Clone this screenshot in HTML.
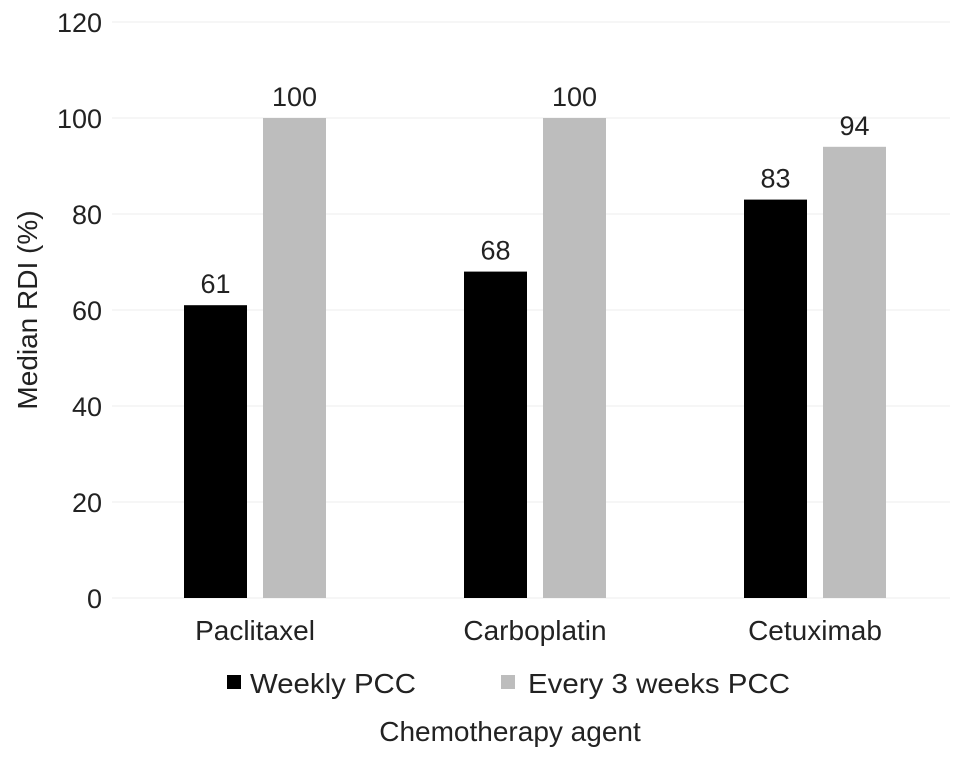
<!DOCTYPE html>
<html><head><meta charset="utf-8"><style>
body{margin:0;background:#fff}
svg text{font-family:"Liberation Sans",Arial,sans-serif;fill:#222}
</style></head><body>
<svg id="chart" width="969" height="760" xmlns="http://www.w3.org/2000/svg"></svg>
<script>
const categories = ["Paclitaxel","Carboplatin","Cetuximab"];
const weekly = [61,68,83];
const every3 = [100,100,94];
const yTicks = [0,20,40,60,80,100,120];
const svg = document.getElementById('chart');
const NS = 'http://www.w3.org/2000/svg';
function el(tag, attrs, parent){const e=document.createElementNS(NS,tag);for(const k in attrs)e.setAttribute(k,attrs[k]);(parent||svg).appendChild(e);return e;}
const y = v => 598 - v*4.8;
const xc = i => 255 + i*280;
yTicks.forEach(t=>{
  const g=el('line',{x1:112,x2:950,y1:y(t),y2:y(t),stroke:'#ececec','stroke-width':1});
  
  
  const tx=el('text',{x:102,y:y(t)+10,'text-anchor':'end','font-size':27});
  tx.textContent=t;
  
  
});
categories.forEach((c,i)=>{
  const pairs=[[weekly[i],'#000',-71],[every3[i],'#bdbdbd',8]];
  pairs.forEach(([v,col,off],j)=>{
    const r=el('rect',{x:xc(i)+off,y:y(v),width:63,height:y(0)-y(v),fill:col});
    
    
    const t=el('text',{x:xc(i)+off+31.5,y:y(v)-12,'text-anchor':'middle','font-size':27});
    t.textContent=v;
    
    
  });
  const l=el('text',{x:xc(i),y:640,'text-anchor':'middle','font-size':28});
  l.textContent=c;
  
  
});
</script>
<svg style="position:absolute;left:0;top:0" width="969" height="760" xmlns="http://www.w3.org/2000/svg">
<g>
<rect x="227" y="675" width="14" height="14" fill="#000"/>
<text x="250" y="693" font-size="28" textLength="166" lengthAdjust="spacingAndGlyphs">Weekly PCC</text>
<rect x="501" y="675" width="14" height="14" fill="#bdbdbd"/>
<text x="528" y="693" font-size="28" textLength="262" lengthAdjust="spacingAndGlyphs">Every 3 weeks PCC</text>
</g>
<text x="510" y="741" text-anchor="middle" font-size="28">Chemotherapy agent</text>
<text transform="translate(37,310) rotate(-90)" text-anchor="middle" font-size="28">Median RDI (%)</text>
</svg>
</body></html>
